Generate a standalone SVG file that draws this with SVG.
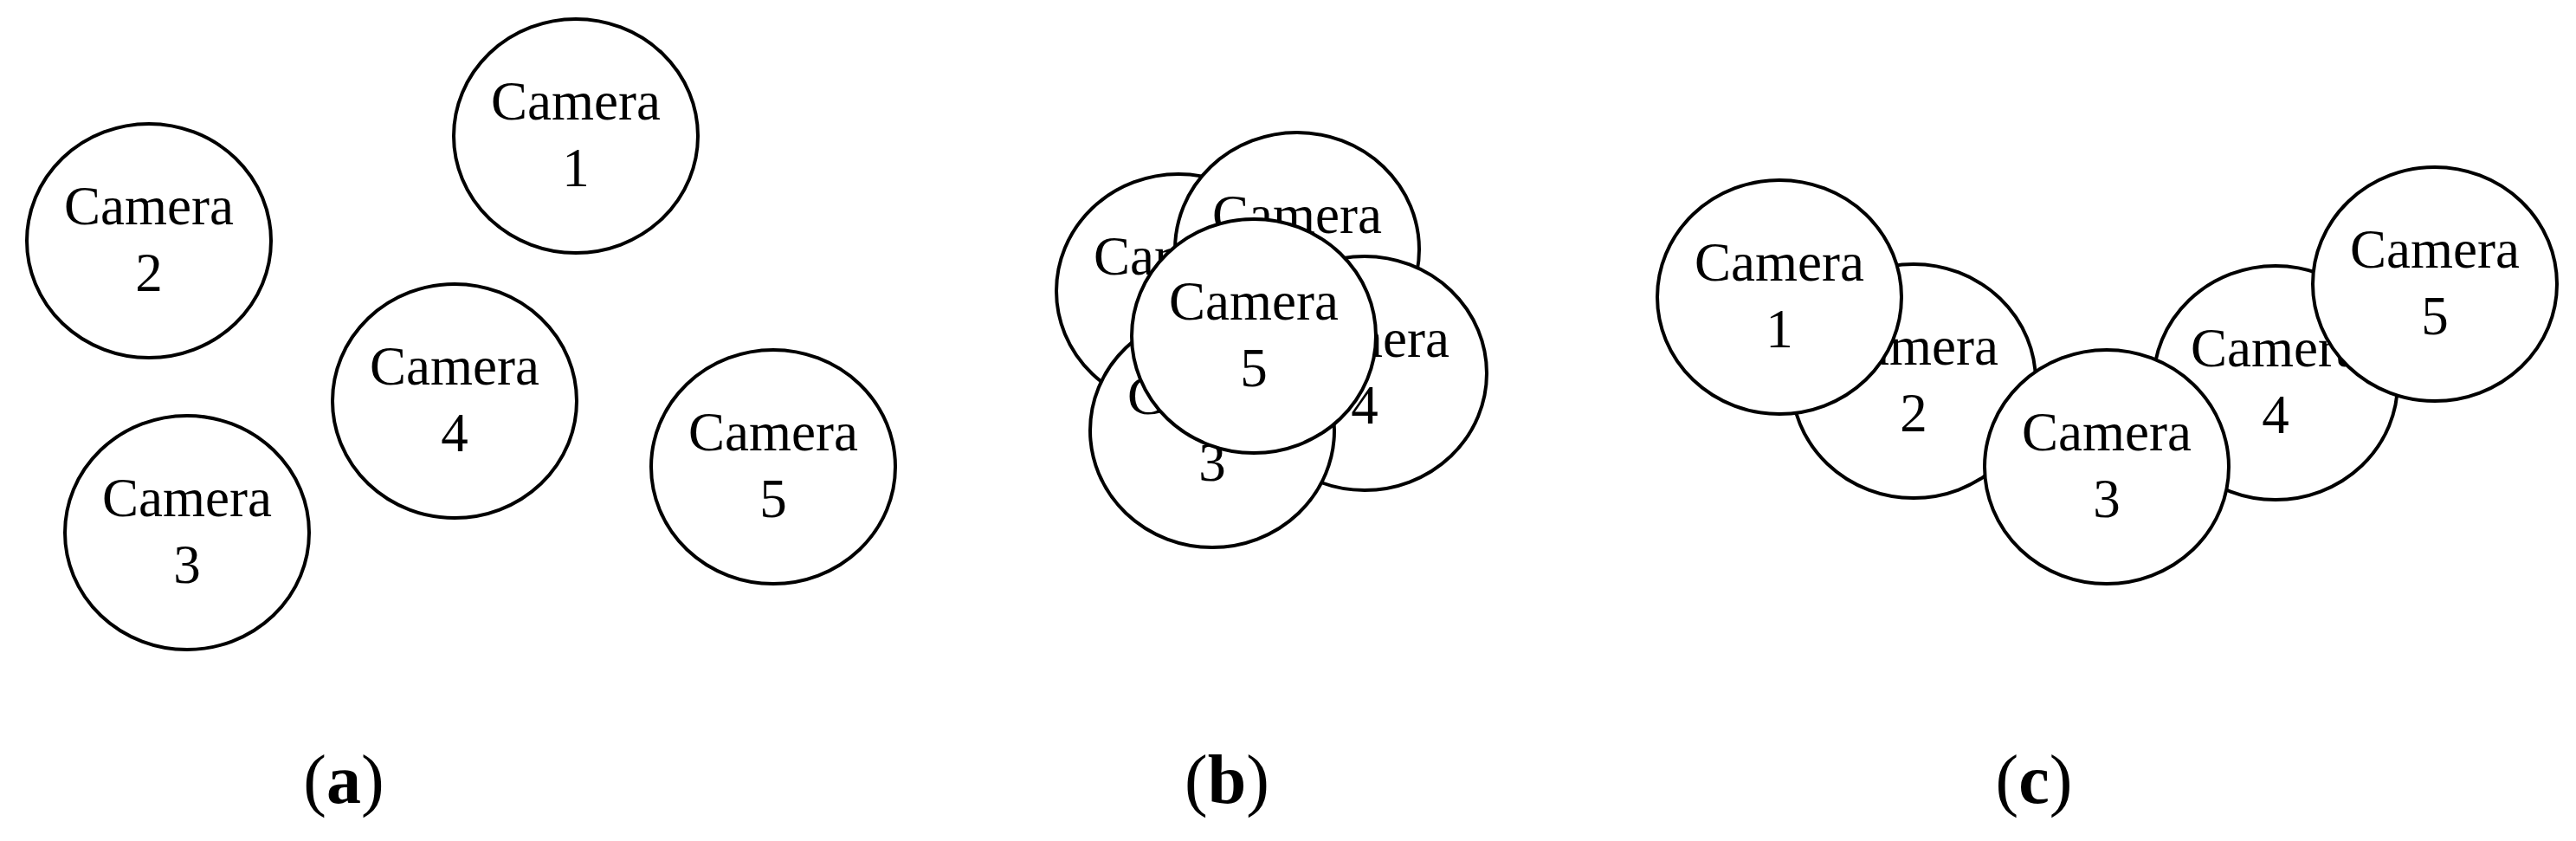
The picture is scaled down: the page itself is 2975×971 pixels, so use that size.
<svg xmlns="http://www.w3.org/2000/svg" width="2975" height="971" viewBox="0 0 2975 971">
<style>
.c{fill:#fff;stroke:#000;stroke-width:4}
text{font-family:"Liberation Serif","Times New Roman",serif;font-size:63px;text-anchor:middle;fill:#000}
.lb{font-size:80px}
.b{font-weight:bold}
</style>
<defs>
<g id="cam"><ellipse class="c" cx="0" cy="0" rx="141" ry="135"/></g>
</defs>
<rect width="2975" height="971" fill="#fff"/>
<g id="a">
<g id="a1" transform="translate(665,157)"><use href="#cam"/><text y="-19">Camera</text><text y="58">1</text></g>
<g id="a2" transform="translate(172,278)"><use href="#cam"/><text y="-19">Camera</text><text y="58">2</text></g>
<g id="a3" transform="translate(216,615)"><use href="#cam"/><text y="-19">Camera</text><text y="58">3</text></g>
<g id="a4" transform="translate(525,463)"><use href="#cam"/><text y="-19">Camera</text><text y="58">4</text></g>
<g id="a5" transform="translate(893,539)"><use href="#cam"/><text y="-19">Camera</text><text y="58">5</text></g>
<text class="lb" x="397" y="927">(<tspan class="b">a</tspan>)</text>
</g>
<g id="b">
<g id="b2" transform="translate(1361,336)"><use href="#cam"/><text y="-19">Camera</text><text y="58">2</text></g>
<g id="b1" transform="translate(1498,288)"><use href="#cam"/><text y="-19">Camera</text><text y="58">1</text></g>
<g id="b4" transform="translate(1576,431)"><use href="#cam"/><text y="-19">Camera</text><text y="58">4</text></g>
<g id="b3" transform="translate(1400,497)"><use href="#cam"/><text y="-19">Camera</text><text y="58">3</text></g>
<g id="b5" transform="translate(1448,388)"><use href="#cam"/><text y="-19">Camera</text><text y="58">5</text></g>
<text class="lb" x="1417" y="927">(<tspan class="b">b</tspan>)</text>
</g>
<g id="c">
<g id="c2" transform="translate(2210,440)"><use href="#cam"/><text y="-19">Camera</text><text y="58">2</text></g>
<g id="c1" transform="translate(2055,343)"><use href="#cam"/><text y="-19">Camera</text><text y="58">1</text></g>
<g id="c4" transform="translate(2628,442)"><use href="#cam"/><text y="-19">Camera</text><text y="58">4</text></g>
<g id="c3" transform="translate(2433,539)"><use href="#cam"/><text y="-19">Camera</text><text y="58">3</text></g>
<g id="c5" transform="translate(2812,328)"><use href="#cam"/><text y="-19">Camera</text><text y="58">5</text></g>
<text class="lb" x="2349" y="927">(<tspan class="b">c</tspan>)</text>
</g>
<g id="connectors"/>
</svg>
